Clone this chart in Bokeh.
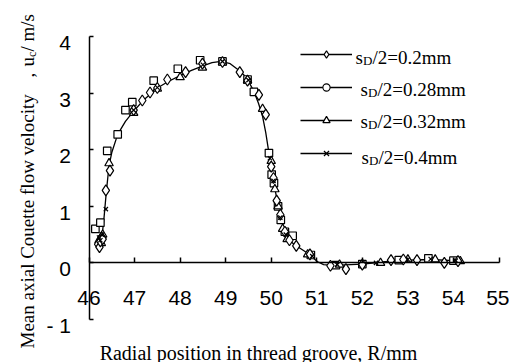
import math
from bokeh.plotting import figure
from bokeh.models import Range1d, Label, Legend, LegendItem, LinearAxis, FixedTicker
from bokeh.embed import file_html
from bokeh.resources import INLINE

# ---------------- data ----------------
curve_x = [46.27, 46.33, 46.38, 46.44, 46.50, 46.63, 46.80, 46.98, 47.20, 47.50, 47.75, 48.00,
           48.25, 48.50, 48.70, 48.90, 49.10, 49.26, 49.40, 49.48, 49.62, 49.72, 49.81, 49.88,
           49.95, 50.03, 50.10, 50.17, 50.25, 50.32, 50.40, 50.50, 50.65, 50.80, 50.90, 51.02,
           51.15, 51.27, 51.50, 52.00, 52.50, 53.00, 53.50, 54.00, 54.20]
curve_y = [0.35, 0.80, 1.25, 1.72, 1.95, 2.27, 2.50, 2.68, 2.88, 3.09, 3.21, 3.31,
           3.40, 3.48, 3.54, 3.56, 3.52, 3.42, 3.32, 3.24, 3.03, 2.82, 2.59, 2.30,
           1.94, 1.53, 1.23, 0.94, 0.70, 0.50, 0.40, 0.33, 0.25, 0.17, 0.10, 0.02,
           -0.03, -0.04, -0.04, -0.02, 0.02, 0.05, 0.06, 0.04, 0.03]

s020_x = [46.20, 46.23, 46.25, 46.28, 46.30, 46.37, 46.46, 46.98, 47.17, 47.34, 47.50, 47.72,
          48.12, 48.49, 48.93, 49.31, 49.48, 49.73, 49.88, 50.00, 50.05, 50.12, 50.20, 50.30,
          50.40, 50.55, 50.85, 51.30, 51.64, 52.00, 52.63, 52.90, 53.20, 53.80, 54.10]
s020_y = [0.33, 0.28, 0.38, 0.45, 0.42, 1.28, 1.63, 2.70, 2.87, 3.01, 3.09, 3.24,
          3.37, 3.52, 3.55, 3.37, 3.22, 2.97, 2.62, 1.70, 1.50, 1.10, 0.85, 0.55,
          0.40, 0.30, 0.15, -0.05, -0.11, -0.03, 0.05, 0.06, 0.05, 0.00, 0.03]

s028_x = [46.14, 46.25, 46.40, 46.63, 46.80, 46.95, 47.42, 47.95, 48.44, 48.93, 49.48, 49.62,
          49.95, 50.01, 50.06, 50.15, 50.21, 50.30, 50.47, 50.87, 51.42, 52.00, 52.80, 53.45, 54.00]
s028_y = [0.60, 0.71, 1.98, 2.27, 2.70, 2.84, 3.22, 3.43, 3.58, 3.56, 3.24, 3.02,
          1.94, 1.56, 1.41, 1.00, 0.76, 0.55, 0.48, 0.14, -0.04, -0.02, 0.05, 0.08, 0.04]

s032_x = [46.22, 46.27, 46.30, 46.44, 46.98, 47.50, 48.00, 48.49, 48.93, 49.48, 49.81, 50.00,
          50.08, 50.15, 50.25, 50.35, 50.80, 51.50, 52.40, 53.00, 53.60, 54.15]
s032_y = [0.40, 0.35, 0.50, 1.76, 2.65, 3.08, 3.28, 3.45, 3.54, 3.22, 2.72, 1.80,
          1.30, 1.00, 0.60, 0.42, 0.15, -0.03, 0.00, 0.06, 0.06, 0.03]

s040_x = [46.22, 46.25, 46.28, 46.37, 46.98, 47.50, 48.50, 48.93, 49.50, 49.97, 50.05, 50.20,
          50.32, 50.90, 51.45, 52.30, 53.00, 53.50, 54.05]
s040_y = [0.45, 0.40, 0.50, 0.95, 2.70, 3.10, 3.50, 3.56, 3.23, 1.85, 1.45, 0.80,
          0.50, 0.12, -0.03, 0.00, 0.06, 0.07, 0.04]

legend_values = ["0.2mm", "0.28mm", "0.32mm", "0.4mm"]
x_ticks = [46, 47, 48, 49, 50, 51, 52, 53, 54, 55]
y_ticks = [-1, 0, 1, 2, 3, 4]
y_tick_text = {-1: "- 1"}
x_title = "Radial position in thread groove, R/mm"
y_title_main = "Mean axial Couette flow velocity"
y_title_comma = ","
y_title_u = "u"
y_title_sub = "c"
y_title_end = "/ m/s"

SERIF = "Liberation Serif"
SANS = "Liberation Sans"

# ---------------- figure (frame fills the canvas; axes are pinned) ----------------
W, H = 509, 362
px_per_x = 410 / 9.0
px_per_y = 283 / 5.0
x0 = 46 - 88.5 / px_per_x
y1 = 4 + 36 / px_per_y
y0 = y1 - H / px_per_y
lab_shift = 6 / px_per_y     # y tick labels sit a few pixels below their ticks
p = figure(width=W, height=H,
           x_range=Range1d(x0, x0 + W / px_per_x), y_range=Range1d(y0, y1),
           x_axis_location=None, y_axis_location=None,
           output_backend="svg", toolbar_location=None,
           min_border_left=0, min_border_right=0, min_border_top=0, min_border_bottom=0)
p.extra_y_ranges = {"ylab": Range1d(y0 + lab_shift, y1 + lab_shift)}
p.outline_line_color = None
p.grid.visible = False
p.background_fill_color = "white"
p.border_fill_color = "white"

xa = LinearAxis(fixed_location=0, bounds=(46, 55), ticker=FixedTicker(ticks=x_ticks),
                major_tick_in=5, major_tick_out=0, minor_tick_line_color=None,
                major_label_standoff=28, major_label_text_font=SANS,
                major_label_text_font_size="21px", major_label_text_color="black",
                axis_line_color="black", axis_line_width=1.5,
                major_tick_line_color="black", major_tick_line_width=1.5)
p.add_layout(xa, "below")

# y axis: rule and ticks
ya = LinearAxis(fixed_location=46, bounds=(-1, 4), ticker=FixedTicker(ticks=y_ticks),
                major_tick_in=4, major_tick_out=0, minor_tick_line_color=None,
                major_label_text_color=None,
                axis_line_color="black", axis_line_width=1.5,
                major_tick_line_color="black", major_tick_line_width=1.5)
p.add_layout(ya, "left")
# y axis: tick labels
yl = LinearAxis(y_range_name="ylab", fixed_location=46, ticker=FixedTicker(ticks=y_ticks),
                major_label_overrides=y_tick_text,
                axis_line_color=None, major_tick_line_color=None, minor_tick_line_color=None,
                major_tick_in=0, major_tick_out=0, major_label_standoff=18,
                major_label_text_font=SANS, major_label_text_font_size="21px",
                major_label_text_color="black")
p.add_layout(yl, "left")

# ---------------- glyphs ----------------
curve = p.line(curve_x, curve_y, line_color="black", line_width=1.3)
# circle symbol of the 0.28 mm series (shown in the legend; hidden below the squares in the plot)
r_ci = p.scatter(s028_x, s028_y, marker="circle", size=4, fill_color="white", line_color="black", line_width=1.1)
r_sq = p.scatter(s028_x, s028_y, marker="square", size=7.5, fill_color="white", line_color="black", line_width=1.2)
r_tr = p.scatter(s032_x, s032_y, marker="triangle", size=8.5, fill_color="white", line_color="black", line_width=1.2)
r_di = p.scatter(s020_x, s020_y, marker="diamond", size=11, fill_color="white", line_color="black", line_width=1.2)
r_x = p.scatter(s040_x, s040_y, marker="x", size=6, line_color="black", line_width=1.2)

legend = Legend(items=[
    LegendItem(label=" ", renderers=[curve, r_di]),
    LegendItem(label=" ", renderers=[curve, r_ci]),
    LegendItem(label=" ", renderers=[curve, r_tr]),
    LegendItem(label=" ", renderers=[curve, r_x]),
], location=(300, 200), orientation="vertical", glyph_width=52, glyph_height=18,
    label_height=18, label_width=0, label_standoff=0, label_text_font_size="1px",
    spacing=15, padding=0, margin=0, border_line_alpha=0, background_fill_alpha=0)
p.add_layout(legend, "center")


def add_text(x, y, text, size, angle=0.0, align="left"):
    p.add_layout(Label(x=x, y=y, x_units="screen", y_units="screen", text=text, angle=angle,
                       text_align=align, text_baseline="alphabetic",
                       text_font=SERIF, text_font_size=size, text_color="black"))


# legend texts with subscript D (screen units, origin at bottom-left of the canvas)
row_base = [H - 57, H - 89, H - 121, H - 157]
row_x = [355, 360, 360, 361]
for i, v in enumerate(legend_values):
    bx, by = row_x[i], row_base[i]
    add_text(bx, by, "s", "19px")
    add_text(bx + 7.5, by - 3, "D", "13px")
    add_text(bx + 17, by, "/2=" + v, "19px")

# axis titles
add_text(258, H - 352, x_title, "20px", align="center")
rot = math.pi / 2
add_text(27, H - 348, y_title_main, "19px", angle=rot)
add_text(27, H - 77, y_title_comma, "19px", angle=rot)
add_text(27, H - 66, y_title_u, "19px", angle=rot)
add_text(31, H - 56.5, y_title_sub, "12px", angle=rot)
add_text(27, H - 51, y_title_end, "19px", angle=rot)

open("out.html", "w").write(file_html(p, INLINE))
